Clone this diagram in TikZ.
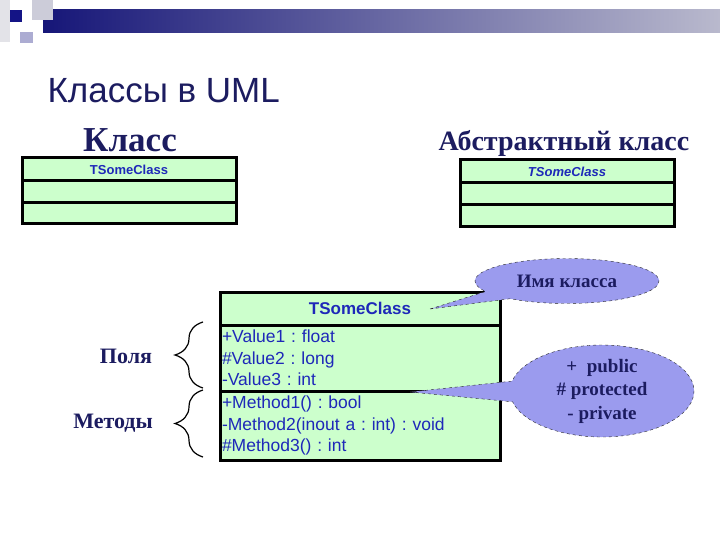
\documentclass[tikz,border=0pt]{standalone}
\usepackage{fontspec}
\setmainfont{Liberation Serif}
\setsansfont{Liberation Sans}
\usetikzlibrary{positioning,shapes.callouts,decorations.pathreplacing}

\definecolor{navy}{RGB}{28,28,96}
\definecolor{umlfill}{RGB}{204,255,204}
\definecolor{umltext}{RGB}{30,40,185}
\definecolor{bubblefill}{RGB}{155,155,238}
\definecolor{bardark}{RGB}{22,22,120}
\definecolor{barlight}{RGB}{185,185,205}

\tikzset{
  umlbox/.style={draw=black,line width=3pt,fill=umlfill,inner sep=0pt,outer sep=0pt},
  smallname/.style={font=\sffamily\bfseries\fontsize{13}{15}\selectfont,text=umltext},
  bigname/.style={font=\sffamily\bfseries\fontsize{17}{20}\selectfont,text=umltext},
  membertext/.style={font=\sffamily\fontsize{17.5}{21.5}\selectfont\frenchspacing,text=umltext,
    align=left,text width=276pt,inner xsep=2pt},
  bubble/.style={ellipse callout,draw=black!85,dashed,fill=bubblefill,inner sep=0pt,
    font=\bfseries\fontsize{19}{23.5}\selectfont,text=navy,align=center},
  heading/.style={font=\bfseries,text=navy},
  bracelabel/.style={font=\bfseries\fontsize{22}{24}\selectfont,text=navy},
  bracepath/.style={decorate,decoration={brace,amplitude=28pt},line width=1.2pt}
}

\begin{document}
\begin{tikzpicture}[x=1pt,y=-1pt]
  \useasboundingbox (0,0) rectangle (720,540);
  \fill[white] (0,0) rectangle (720,540);

  % slide decoration
  \shade[left color=bardark,right color=barlight] (43,10) rectangle (720,33);
  \fill[blue!10!gray!20] (0,0) rectangle (10,42);
  \fill[blue!15!gray!35] (32,0) rectangle (53,20);
  \fill[blue!30!gray!50] (20,32) rectangle (33,43);
  \fill[bardark!90!blue] (10,10) rectangle (22,22);

  % title
  \node[anchor=base west,font=\sffamily\fontsize{35}{37}\selectfont,text=navy] (title)
    at (44,103) {Классы в UML};

  % plain class
  \node[heading,font=\bfseries\fontsize{35}{38}\selectfont] (plainlbl) at (130,140) {Класс};
  \node[umlbox,smallname,minimum width=214pt,minimum height=23pt,anchor=north west]
    (plainhdr) at (22,158) {TSomeClass};
  \node[umlbox,minimum width=214pt,minimum height=22pt,below=0pt of plainhdr] (plainfld) {};
  \node[umlbox,minimum width=214pt,minimum height=21pt,below=0pt of plainfld] (plainmth) {};

  % abstract class
  \node[heading,font=\bfseries\fontsize{28}{30}\selectfont] (abstlbl) at (564,143)
    {Абстрактный класс};
  \node[umlbox,smallname,font=\sffamily\bfseries\itshape\fontsize{13}{15}\selectfont,
    minimum width=214pt,minimum height=23pt,anchor=north west]
    (abstrhdr) at (460,160) {TSomeClass};
  \node[umlbox,minimum width=214pt,minimum height=22pt,below=0pt of abstrhdr] (abstrfld) {};
  \node[umlbox,minimum width=214pt,minimum height=22pt,below=0pt of abstrfld] (abstrmth) {};

  % full class
  \node[umlbox,bigname,minimum width=280pt,minimum height=33pt,anchor=north west]
    (hdr) at (220,292) {TSomeClass};
  \node[umlbox,membertext,minimum width=280pt,minimum height=66pt,below=0pt of hdr] (fields)
    {+Value1 : float\\\#Value2 : long\\-Value3 : int};
  \node[umlbox,membertext,minimum width=280pt,minimum height=69pt,below=0pt of fields] (methods)
    {+Method1() : bool\\-Method2(inout a : int) : void\\\#Method3() : int};

  % callouts
  \coordinate (nametip) at (430,309);
  \coordinate (accesstip) at (410,392);
  \node[bubble,minimum width=184pt,minimum height=45pt,callout pointer arc=24,
    callout absolute pointer={(nametip)}] (namebubble) at (567,281) {Имя класса};
  \node[bubble,minimum width=184pt,minimum height=92pt,callout pointer arc=26,
    callout absolute pointer={(accesstip)}] (accessbubble) at (602,391)
    {+\ \ public\\\# protected\\- private};

  % braces
  \coordinate (fldtop) at (203,322);
  \coordinate (fldbot) at (203,388);
  \coordinate (mthtop) at (203,390);
  \coordinate (mthbot) at (203,457);
  \draw[bracepath] (fldbot) -- (fldtop);
  \draw[bracepath] (mthbot) -- (mthtop);
  \node[bracelabel] (fieldlbl) at (126,356) {Поля};
  \node[bracelabel] (methodlbl) at (113,423) {Методы};
\end{tikzpicture}
\end{document}
